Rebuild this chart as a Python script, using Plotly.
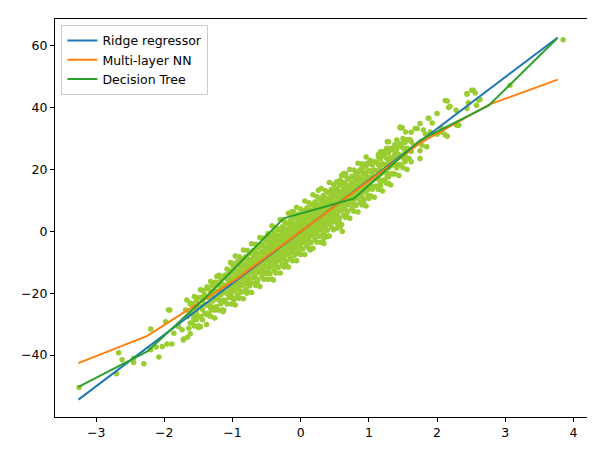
import plotly.graph_objects as go

# ---- model prediction lines (sorted test x, predicted y) ----
ridge_x = [-3.26, 3.77]
ridge_y = [-54.4, 62.6]

mlp_x = [-3.26, -2.25, -0.93, 1.32, 1.75, 2.77, 3.77]
mlp_y = [-42.6, -33.8, -15.2, 21.4, 28.5, 41.0, 49.0]

tree_x = [-3.26, -2.25, -1.40, -0.25, 0.78, 1.75, 2.76, 3.76]
tree_y = [-50.3, -38.8, -21.5, 4.2, 10.6, 29.4, 40.7, 62.3]

# ---- observed samples: sparse points read individually ----
sparse_points = [
    (-3.25, -50.5), (-2.70, -46.0), (-2.67, -39.2), (-2.62, -41.5), (-2.45, -42.4),
    (-2.30, -42.8), (-2.08, -40.6), (-2.20, -31.6), (-1.92, -25.4), (-2.45, -41.0),
    (-2.20, -38.3), (-2.12, -37.4), (-2.03, -37.2), (-1.96, -36.4), (-1.89, -36.4),
    (-1.98, -29.2), (-1.94, -25.4), (-1.86, -32.9), (-1.79, -30.8), (-1.74, -31.8),
    (-1.72, -34.8), (-1.66, -34.2), (-1.64, -31.3), (-1.50, -30.5), (-1.66, -27.5),
    (-1.57, -28.1), (-1.52, -27.0), (-1.69, -25.4), (-1.62, -23.2), (-1.67, -22.2),
    (-1.47, -24.3), (-1.35, -27.0), (-1.32, -24.8), (-1.25, -25.4), (-1.13, -25.4),
    (-1.42, -21.1), (-1.47, -18.9), (-1.37, -17.9), (-1.23, -14.6), (-1.25, -17.3),
    (-1.10, -14.1), (-1.01, -10.3), (-0.93, -9.8), (-0.84, -13.5), (-0.79, -20.0),
    (-0.76, -16.8), (-1.03, -20.0), (-0.98, -22.2), (-1.13, -22.2), (-0.64, -16.8),
    (-0.69, -14.6), (-1.03, -10.1), (-0.88, -9.3), (-0.69, -7.1), (-0.49, -1.7),
    (-0.30, -1.2), (-0.22, -10.9), (-0.40, -15.7), (-0.79, -19.5), (-0.91, -21.6),
    (-1.15, -25.4), (-1.37, -27.0), (-1.47, -30.8), (-1.72, -35.1),
    (0.26, 13.3), (-0.10, 6.3), (0.53, 16.0), (0.66, 18.7), (0.83, 19.2),
    (0.97, 21.9), (1.19, 25.7), (1.27, 28.9), (1.29, 15.5), (1.02, 11.2),
    (0.92, 9.0), (0.68, 4.7), (0.58, 1.5), (0.56, 3.6), (0.39, -1.7),
    (0.34, -3.9), (0.14, -6.0), (-0.05, -7.1), (-0.25, -11.4), (-0.44, -10.3),
    (-0.54, -13.5), (-0.88, -10.3),
    (2.44, 44.5), (2.51, 45.6), (2.56, 44.7), (2.61, 42.4), (2.46, 41.5),
    (2.58, 40.7), (2.15, 42.1), (2.17, 40.0), (2.28, 39.1), (2.32, 34.3),
    (2.00, 38.1), (1.88, 36.5), (1.93, 35.0), (1.75, 34.8), (1.68, 33.2),
    (1.49, 33.5), (1.54, 32.1), (1.80, 32.7), (1.83, 31.4), (1.90, 32.1),
    (2.00, 31.4), (2.07, 32.1), (2.12, 31.1), (2.15, 30.7), (1.78, 27.8),
    (1.85, 27.3), (1.75, 26.0), (1.61, 29.5), (1.66, 27.8), (1.56, 26.2),
    (1.46, 28.4), (1.41, 25.2), (1.32, 26.8), (1.29, 28.9), (1.22, 25.7),
    (1.14, 24.1), (1.36, 23.5), (1.54, 24.1), (1.75, 23.5), (3.07, 47.2),
    (3.85, 61.9), (2.63, 42.6), (2.53, 45.6), (2.44, 44.3), (2.12, 42.3),
    (2.19, 40.4), (2.44, 39.7), (2.29, 34.3), (1.87, 36.5), (1.71, 33.2),
    (1.46, 33.4), (2.07, 33.2), (1.46, 33.7), (1.41, 29.5), (1.17, 25.7),
    (1.00, 10.6), (1.17, 14.7), (1.27, 17.6), (1.36, 21.9), (1.17, 19.2),
    (0.83, 17.6), (0.58, 16.5), (0.63, 18.7), (0.90, 20.8), (1.02, 23.0),
    (0.53, 1.0), (0.61, -0.1), (0.34, -2.3), (0.14, 0.4), (-0.10, -1.2),
    (-0.13, 6.3),
]

# ---- observed samples: dense core, read column by column ----
core_x = [
    -1.62, -1.56, -1.50, -1.44, -1.38, -1.32, -1.26, -1.20, -1.14, -1.08,
    -1.02, -0.96, -0.90, -0.84, -0.78, -0.72, -0.66, -0.60, -0.54, -0.48,
    -0.42, -0.36, -0.30, -0.24, -0.18, -0.12, -0.06, 0.00, 0.06, 0.12,
    0.18, 0.24, 0.30, 0.36, 0.42, 0.48, 0.54, 0.60, 0.66, 0.72,
    0.78, 0.84, 0.90, 0.96, 1.02, 1.08, 1.14, 1.20, 1.26, 1.32,
    1.38, 1.44, 1.50, 1.56, 1.62,
]
core_y = [
    [-33.1, -29.6, -26.3, -23.5],
    [-30.6, -27.3, -24.2, -21.1],
    [-31.1, -27.6, -24.3, -21.5],
    [-28.6, -25.3, -22.2, -19.1],
    [-30.1, -26.6, -23.9, -21.3, -18.6],
    [-27.5, -24.2, -21.7, -19.4, -16.2],
    [-28.0, -24.5, -21.8, -19.2, -16.5],
    [-25.5, -22.2, -19.7, -17.4, -14.2],
    [-26.0, -22.5, -19.8, -17.2, -14.5],
    [-23.5, -20.2, -17.7, -15.4, -12.2],
    [-23.5, -21.0, -18.8, -17.0, -15.1, -12.8, -10.2],
    [-23.8, -19.1, -17.0, -15.0, -13.1, -10.9, -8.0],
    [-21.5, -19.0, -16.8, -15.0, -13.1, -10.8, -8.2],
    [-21.8, -17.1, -15.0, -13.0, -11.1, -8.9, -6.0],
    [-19.5, -17.0, -14.8, -13.0, -11.1, -8.8, -6.2],
    [-19.8, -15.1, -13.0, -11.0, -9.1, -6.9, -4.0],
    [-17.5, -15.0, -12.8, -11.0, -9.1, -6.8, -4.2],
    [-17.8, -13.1, -11.0, -9.0, -7.1, -4.9, -2.0],
    [-15.5, -13.0, -10.8, -9.0, -7.1, -4.8, -2.2],
    [-15.5, -13.0, -11.2, -9.5, -8.0, -6.6, -5.0, -3.2, -0.8],
    [-15.5, -11.2, -9.4, -7.8, -6.2, -4.8, -3.2, -1.4, 1.8],
    [-13.5, -11.0, -9.2, -7.5, -6.0, -4.6, -3.0, -1.2, 1.2],
    [-13.5, -9.2, -7.4, -5.8, -4.2, -2.8, -1.2, 0.6, 3.8],
    [-11.5, -9.0, -7.2, -5.5, -4.0, -2.6, -1.0, 0.8, 3.2],
    [-11.5, -7.2, -5.4, -3.8, -2.2, -0.8, 0.8, 2.6, 5.8],
    [-9.5, -7.0, -5.2, -3.5, -2.0, -0.6, 1.0, 2.8, 5.2],
    [-9.5, -5.2, -3.4, -1.8, -0.2, 1.2, 2.8, 4.6, 7.8],
    [-7.5, -5.0, -3.2, -1.5, 0.0, 1.4, 3.0, 4.8, 7.2],
    [-7.5, -3.2, -1.4, 0.2, 1.8, 3.2, 4.8, 6.6, 9.8],
    [-5.5, -3.0, -1.2, 0.5, 2.0, 3.4, 5.0, 6.8, 9.2],
    [-5.5, -1.2, 0.6, 2.2, 3.8, 5.2, 6.8, 8.6, 11.8],
    [-3.5, -1.0, 0.8, 2.5, 4.0, 5.4, 7.0, 8.8, 11.2],
    [-3.5, 0.8, 2.6, 4.2, 5.8, 7.2, 8.8, 10.6, 13.8],
    [-1.5, 1.0, 2.8, 4.5, 6.0, 7.4, 9.0, 10.8, 13.2],
    [-1.5, 2.8, 4.6, 6.2, 7.8, 9.2, 10.8, 12.6, 15.8],
    [0.5, 3.0, 4.8, 6.5, 8.0, 9.4, 11.0, 12.8, 15.2],
    [2.5, 5.0, 7.2, 9.0, 10.9, 13.2, 15.8],
    [2.2, 6.9, 9.0, 11.0, 12.9, 15.1, 18.0],
    [4.5, 7.0, 9.2, 11.0, 12.9, 15.2, 17.8],
    [4.2, 8.9, 11.0, 13.0, 14.9, 17.1, 20.0],
    [6.5, 9.0, 11.2, 13.0, 14.9, 17.2, 19.8],
    [6.2, 10.9, 13.0, 15.0, 16.9, 19.1, 22.0],
    [8.5, 11.0, 13.2, 15.0, 16.9, 19.2, 21.8],
    [8.2, 12.9, 15.0, 17.0, 18.9, 21.1, 24.0],
    [11.5, 14.8, 17.3, 19.6, 22.8],
    [11.0, 14.5, 17.2, 19.8, 22.5],
    [13.5, 16.8, 19.3, 21.6, 24.8],
    [13.0, 16.5, 19.2, 21.8, 24.5],
    [15.5, 18.8, 21.3, 23.6, 26.8],
    [15.0, 18.5, 21.2, 23.8, 26.5],
    [18.5, 21.8, 24.9, 28.0],
    [18.0, 21.5, 24.8, 27.6],
    [20.5, 23.8, 26.9, 30.0],
    [20.0, 23.5, 26.8, 29.6],
    [22.5, 25.8, 28.9, 32.0],
]

# second, interleaved set of core columns
core2_x = [
    -1.59, -1.53, -1.47, -1.41, -1.35, -1.29, -1.23, -1.17, -1.11, -1.05,
    -0.99, -0.93, -0.87, -0.81, -0.75, -0.69, -0.63, -0.57, -0.51, -0.45,
    -0.39, -0.33, -0.27, -0.21, -0.15, -0.09, -0.03, 0.03, 0.09, 0.15,
    0.21, 0.27, 0.33, 0.39, 0.45, 0.51, 0.57, 0.63, 0.69, 0.75,
    0.81, 0.87, 0.93, 0.99, 1.05, 1.11, 1.17, 1.23, 1.29, 1.35,
    1.41, 1.47, 1.53, 1.59,
]
core2_y = [
    [-29.6, -26.6, -23.4],
    [-28.6, -25.6, -22.4],
    [-27.6, -24.5, -21.4],
    [-26.6, -23.5, -20.4],
    [-26.4, -23.5, -21.4, -18.6],
    [-25.4, -22.5, -20.4, -17.6],
    [-24.4, -21.5, -19.4, -16.6],
    [-23.4, -20.5, -18.4, -15.6],
    [-22.4, -19.5, -17.4, -14.6],
    [-21.4, -18.5, -16.4, -13.6],
    [-21.7, -19.4, -17.4, -15.6, -13.5, -11.2],
    [-20.7, -18.4, -16.4, -14.6, -12.5, -10.2],
    [-19.7, -17.4, -15.4, -13.6, -11.5, -9.2],
    [-18.7, -16.4, -14.4, -12.6, -10.5, -8.2],
    [-17.7, -15.4, -13.4, -11.6, -9.5, -7.2],
    [-16.7, -14.4, -12.4, -10.6, -8.5, -6.2],
    [-15.7, -13.4, -11.4, -9.6, -7.5, -5.2],
    [-14.7, -12.4, -10.4, -8.6, -6.5, -4.2],
    [-13.7, -11.4, -9.4, -7.6, -5.5, -3.2],
    [-13.7, -11.6, -9.8, -8.2, -6.8, -5.3, -3.6, -1.5],
    [-12.7, -10.6, -8.8, -7.2, -5.8, -4.3, -2.6, -0.5],
    [-11.7, -9.6, -7.8, -6.2, -4.8, -3.3, -1.6, 0.5],
    [-10.7, -8.6, -6.8, -5.2, -3.8, -2.3, -0.6, 1.5],
    [-9.7, -7.6, -5.8, -4.2, -2.8, -1.3, 0.4, 2.5],
    [-8.7, -6.6, -4.8, -3.2, -1.8, -0.3, 1.4, 3.5],
    [-7.7, -5.6, -3.8, -2.2, -0.8, 0.7, 2.4, 4.5],
    [-6.7, -4.6, -2.8, -1.2, 0.2, 1.7, 3.4, 5.5],
    [-5.7, -3.6, -1.8, -0.2, 1.2, 2.7, 4.4, 6.5],
    [-4.7, -2.6, -0.8, 0.8, 2.2, 3.7, 5.4, 7.5],
    [-3.7, -1.6, 0.2, 1.8, 3.2, 4.7, 6.4, 8.5],
    [-2.7, -0.6, 1.2, 2.8, 4.2, 5.7, 7.4, 9.5],
    [-1.7, 0.4, 2.2, 3.8, 5.2, 6.7, 8.4, 10.5],
    [-0.7, 1.4, 3.2, 4.8, 6.2, 7.7, 9.4, 11.5],
    [0.3, 2.4, 4.2, 5.8, 7.2, 8.7, 10.4, 12.5],
    [1.3, 3.4, 5.2, 6.8, 8.2, 9.7, 11.4, 13.5],
    [3.3, 5.6, 7.6, 9.4, 11.5, 13.8],
    [4.3, 6.6, 8.6, 10.4, 12.5, 14.8],
    [5.3, 7.6, 9.6, 11.4, 13.5, 15.8],
    [6.3, 8.6, 10.6, 12.4, 14.5, 16.8],
    [7.3, 9.6, 11.6, 13.4, 15.5, 17.8],
    [8.3, 10.6, 12.6, 14.4, 16.5, 18.8],
    [9.3, 11.6, 13.6, 15.4, 17.5, 19.8],
    [10.3, 12.6, 14.6, 16.4, 18.5, 20.8],
    [11.3, 13.6, 15.6, 17.4, 19.5, 21.8],
    [13.6, 16.5, 18.6, 21.4],
    [14.6, 17.5, 19.6, 22.4],
    [15.6, 18.5, 20.6, 23.4],
    [16.6, 19.5, 21.6, 24.4],
    [17.6, 20.5, 22.6, 25.4],
    [18.6, 21.5, 23.6, 26.4],
    [20.5, 23.5, 26.7],
    [21.5, 24.5, 27.7],
    [22.5, 25.5, 28.7],
    [23.5, 26.5, 29.7],
]

x_ticks = [-3, -2, -1, 0, 1, 2, 3, 4]
y_ticks = [-40, -20, 0, 20, 40, 60]

# flatten samples
sample_x = [p[0] for p in sparse_points]
sample_y = [p[1] for p in sparse_points]
for cols_x, cols_y in ((core_x, core_y), (core2_x, core2_y)):
    for cx, ys in zip(cols_x, cols_y):
        for yv in ys:
            sample_x.append(cx)
            sample_y.append(yv)

fig = go.Figure()
fig.add_trace(go.Scatter(
    x=sample_x, y=sample_y, mode="markers",
    marker=dict(color="#9acd32", size=5.5, line=dict(width=0)),
    showlegend=False, hoverinfo="skip",
))
fig.add_trace(go.Scatter(x=ridge_x, y=ridge_y, mode="lines", name="Ridge regressor",
                         line=dict(color="#1f77b4", width=2)))
fig.add_trace(go.Scatter(x=mlp_x, y=mlp_y, mode="lines", name="Multi-layer NN",
                         line=dict(color="#ff7f0e", width=2)))
fig.add_trace(go.Scatter(x=tree_x, y=tree_y, mode="lines", name="Decision Tree",
                         line=dict(color="#2ca02c", width=2)))

axis_common = dict(
    showline=True, linecolor="black", linewidth=1, mirror=True,
    ticks="outside", ticklen=4, tickcolor="black", tickwidth=1,
    showgrid=False, zeroline=False,
    tickfont=dict(family="DejaVu Sans", size=12.5, color="black"),
)

fig.update_layout(
    width=595, height=451,
    margin=dict(l=47, r=16, t=11, b=42),
    paper_bgcolor="white", plot_bgcolor="white",
    font=dict(family="DejaVu Sans", size=13, color="black"),
    xaxis=dict(range=[-3.604, 4.20], tickvals=x_ticks, **axis_common),
    yaxis=dict(range=[-60.0, 68.6], tickvals=y_ticks, **axis_common),
    legend=dict(
        x=0.012, y=0.985, xanchor="left", yanchor="top",
        bgcolor="rgba(255,255,255,0.8)", bordercolor="#cccccc", borderwidth=1,
        font=dict(family="DejaVu Sans", size=12.5, color="black"),
        tracegroupgap=0, itemwidth=30,
    ),
)

fig.write_html("out.html")
